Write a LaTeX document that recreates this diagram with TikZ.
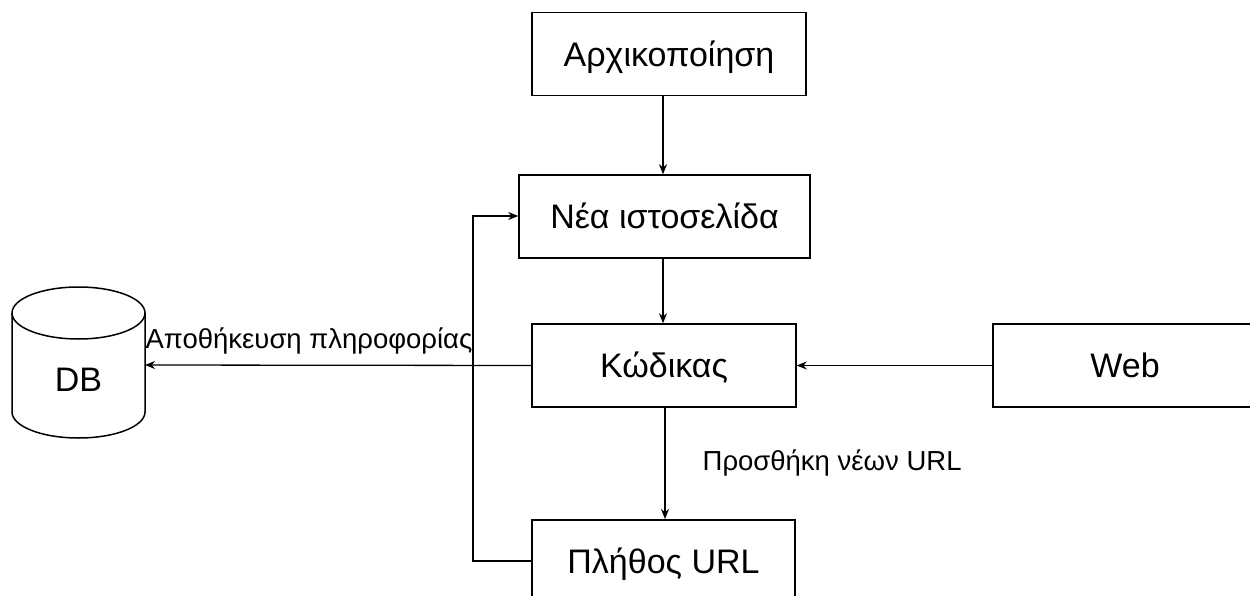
\documentclass[tikz,border=0pt]{standalone}
\usepackage{fontspec}
\setmainfont{Liberation Sans}
\usetikzlibrary{arrows.meta}
\begin{document}
\begin{tikzpicture}[x=1pt,y=-1pt,
  bigtext/.style={font=\fontsize{34}{40}\selectfont, text height=24.3pt, text depth=0pt},
  box/.style={draw, line width=1.5pt, minimum height=83pt, inner sep=0pt, bigtext},
  lbl/.style={font=\fontsize{27.5}{32}\selectfont, inner sep=0pt},
  conn/.style={line width=1.3pt, -{Stealth[length=10pt,width=8pt]}}]
\useasboundingbox (0,0) rectangle (1250,596);

% process boxes
\node[box, minimum width=274pt] (init) at (669,54)  {Αρχικοποίηση};
\node[box, minimum width=291pt] (page) at (664.5,216.5) {Νέα ιστοσελίδα};
\node[box, minimum width=264pt] (code) at (664,365.5) {Κώδικας};
\node[box, minimum width=264pt] (web)  at (1125,365.5) {Web};
\node[box, minimum width=263pt, minimum height=160pt, anchor=north] (urls) at (663.5,519) {};
\node[bigtext] (urlstxt) at (663.5,561) {Πλήθος URL};

% database cylinder
\draw[line width=1.5pt] (12,313) -- (12,412)
  arc[start angle=180, end angle=360, x radius=66.5pt, y radius=26pt]
  -- (145,313);
\draw[line width=1.5pt] (78.5,313) ellipse [x radius=66.5pt, y radius=26pt];
\node[bigtext] (db) at (78.5,379) {DB};
\coordinate (dbin) at (145,365);

% connectors
\draw[conn] (init.south -| 663,0) -- (page.north -| 663,0);
\draw[conn] (page.south -| 663,0) -- (code.north -| 663,0);
\draw[conn] (code.south -| 665,0) -- (urls.north -| 665,0)
  node[lbl, pos=0.5, anchor=west, xshift=37pt] (addlbl) {Προσθήκη νέων URL};
\draw[conn] (web.west) -- (code.east);
\draw[conn] (code.west) -- (dbin)
  node[lbl, pos=1, anchor=south west, yshift=10pt] (storelbl) {Αποθήκευση πληροφορίας};
\draw[conn] (urls.west |- urlstxt) -- (473,561) -- (473,216) -- (page.west |- 0,216);
\end{tikzpicture}
\end{document}
